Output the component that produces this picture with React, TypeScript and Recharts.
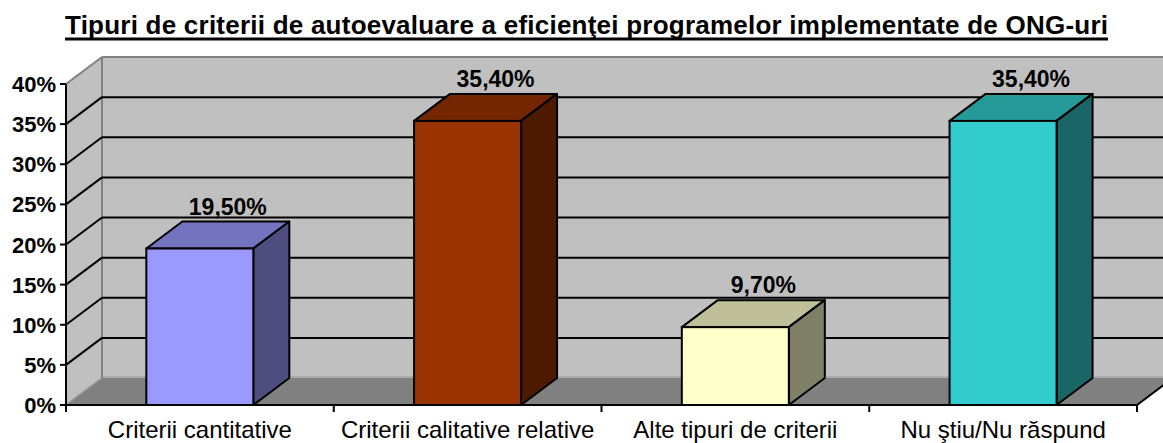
import React from 'react';
import { BarChart, Bar, XAxis, YAxis, CartesianGrid, LabelList, Cell } from 'recharts';

const categories = ['Criterii cantitative', 'Criterii calitative relative', 'Alte tipuri de criterii', 'Nu ştiu/Nu răspund'];
const values = [19.5, 35.4, 9.7, 35.4];
const yTicks = [0, 5, 10, 15, 20, 25, 30, 35, 40];
const title = 'Tipuri de criterii de autoevaluare a eficienţei programelor implementate de ONG-uri';

const frontColors = ['#9999FF', '#993300', '#FFFFCC', '#33CCCC'];
const topColors = ['#7373BF', '#732600', '#BFBF99', '#269999'];
const sideColors = ['#4D4D80', '#4D1A00', '#808066', '#1A6666'];

const data = categories.map((name, i) => ({ name, value: values[i] }));

const DX = 36;
const DY = -27;
const FONT = '"Liberation Sans", Arial, sans-serif';

const Bar3D = (props: any) => {
  const { x, y, width: w, height: h, index } = props;
  if (w == null || h == null) return null;
  const sw = 2;
  return (
    <g>
      <polygon
        points={`${x},${y} ${x + DX},${y + DY} ${x + w + DX},${y + DY} ${x + w},${y}`}
        fill={topColors[index]}
        stroke="#000"
        strokeWidth={sw}
        strokeLinejoin="round"
      />
      <polygon
        points={`${x + w},${y} ${x + w + DX},${y + DY} ${x + w + DX},${y + h + DY} ${x + w},${y + h}`}
        fill={sideColors[index]}
        stroke="#000"
        strokeWidth={sw}
        strokeLinejoin="round"
      />
      <rect x={x} y={y} width={w} height={h} fill={frontColors[index]} stroke="#000" strokeWidth={sw} />
    </g>
  );
};

const GridLine = (props: any) => {
  const { x1, x2, y1, index, y, height } = props;
  const top = y;
  const bottom = y + height;
  const left = x1;
  const right = x2;
  const isTop = Math.abs(y1 - top) < 0.5;
  const isBottom = Math.abs(y1 - bottom) < 0.5;
  return (
    <g key={`gl-${index}`}>
      {index === 0 && (
        <g>
          <rect x={left + DX} y={top + DY} width={right - left + 40} height={height} fill="#C0C0C0" />
          <polygon
            points={`${left},${top} ${left + DX},${top + DY} ${left + DX},${bottom + DY} ${left},${bottom}`}
            fill="#C0C0C0"
          />
          <polygon
            points={`${left},${bottom} ${right},${bottom} ${right + DX},${bottom + DY} ${left + DX},${bottom + DY}`}
            fill="#808080"
          />
          <line x1={left + DX} y1={bottom + DY - 1} x2={right + DX + 40} y2={bottom + DY - 1} stroke="#A6A6A6" strokeWidth={1.5} />
          <line x1={left + DX} y1={top + DY} x2={right + DX + 40} y2={top + DY} stroke="#808080" strokeWidth={2} />
          <line x1={left + DX} y1={top + DY} x2={left + DX} y2={bottom + DY} stroke="#808080" strokeWidth={2} />
          <line x1={left} y1={top} x2={left + DX} y2={top + DY} stroke="#808080" strokeWidth={2} />
          <line x1={left} y1={bottom} x2={left + DX} y2={bottom + DY} stroke="#909090" strokeWidth={1.5} />
          <line x1={right} y1={bottom} x2={right + DX} y2={bottom + DY} stroke="#000" strokeWidth={2} />
        </g>
      )}
      {!isTop && !isBottom && (
        <g>
          <line x1={left} y1={y1} x2={left + DX} y2={y1 + DY} stroke="#000" strokeWidth={2} />
          <line x1={left + DX} y1={y1 + DY} x2={right + DX + 40} y2={y1 + DY} stroke="#000" strokeWidth={2} />
        </g>
      )}
    </g>
  );
};

const YTick = (props: any) => {
  const { x, y, payload } = props;
  return (
    <g>
      <line x1={x - 6} y1={y} x2={x} y2={y} stroke="#000" strokeWidth={2} />
      <text x={x - 10} y={y + 8} textAnchor="end" fontFamily={FONT} fontWeight="bold" fontSize={22} fill="#000">
        {`${payload.value}%`}
      </text>
    </g>
  );
};

const XTick = (props: any) => {
  const { x, y, payload, index, width } = props;
  const band = width / categories.length;
  const half = band / 2;
  return (
    <g>
      <line x1={x - half} y1={y} x2={x - half} y2={y + 7} stroke="#000" strokeWidth={2} />
      {index === categories.length - 1 && (
        <line x1={x + half} y1={y} x2={x + half} y2={y + 7} stroke="#000" strokeWidth={2} />
      )}
      <text x={x} y={y + 33} textAnchor="middle" fontFamily={FONT} fontSize={24} fill="#000">
        {payload.value}
      </text>
    </g>
  );
};

const ValueLabel = (props: any) => {
  const { x, y, width, value } = props;
  const txt = `${Number(value).toFixed(2).replace('.', ',')}%`;
  return (
    <text
      x={x + width / 2 + 28}
      y={y + DY - 7}
      textAnchor="middle"
      fontFamily={FONT}
      fontWeight="bold"
      fontSize={23}
      fill="#000"
    >
      {txt}
    </text>
  );
};

export default function App() {
  return (
    <div style={{ position: 'absolute', left: 0, top: 0, width: 1163, height: 443, background: '#fff' }}>
      <svg width={1163} height={50} style={{ position: 'absolute', left: 0, top: 0 }}>
        <text
          x={586.5}
          y={34}
          textAnchor="middle"
          fontFamily={FONT}
          fontWeight="bold"
          fontSize={26}
          textLength={1043}
          lengthAdjust="spacing"
          fill="#000"
        >
          {title}
        </text>
        <line x1={65} y1={39} x2={1108} y2={39} stroke="#000" strokeWidth={3} />
      </svg>
      <div style={{ position: 'absolute', left: 0, top: 0 }}>
        <BarChart
          width={1163}
          height={443}
          data={data}
          margin={{ top: 84, right: 26, bottom: 8, left: 8 }}
          barCategoryGap="30%"
          style={{ overflow: 'visible' }}
        >
          <CartesianGrid horizontal={GridLine as any} vertical={false} />
          <XAxis
            dataKey="name"
            height={30}
            tickSize={0}
            tickMargin={0}
            tickLine={false}
            axisLine={{ stroke: '#000', strokeWidth: 2 }}
            tick={<XTick />}
            interval={0}
          />
          <YAxis
            width={58}
            domain={[0, 40]}
            ticks={yTicks}
            tickSize={0}
            tickMargin={0}
            tickLine={false}
            axisLine={{ stroke: '#000', strokeWidth: 2 }}
            tick={<YTick />}
            interval={0}
          />
          <Bar dataKey="value" shape={<Bar3D />} isAnimationActive={false}>
            {data.map((d, i) => (
              <Cell key={d.name} fill={frontColors[i]} />
            ))}
            <LabelList dataKey="value" content={<ValueLabel />} />
          </Bar>
        </BarChart>
      </div>
    </div>
  );
}
